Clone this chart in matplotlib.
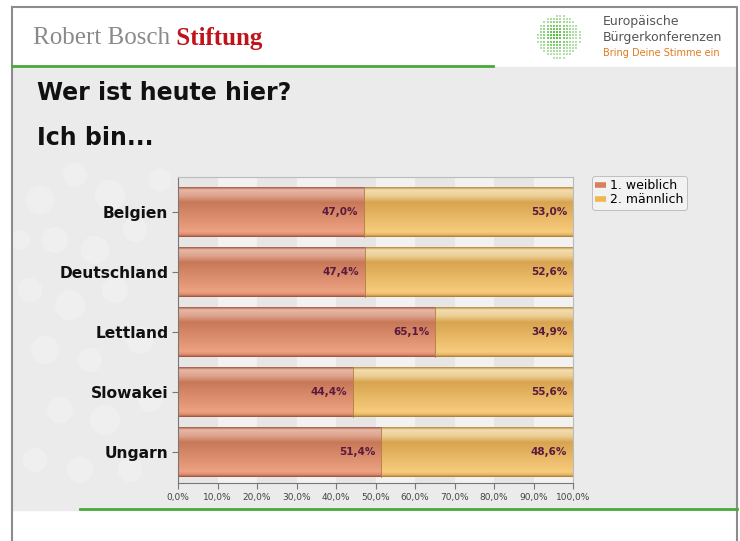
import numpy as np
import matplotlib.pyplot as plt
from matplotlib.patches import Rectangle, Circle
from matplotlib.lines import Line2D
from matplotlib.colors import to_rgb

laender = ["Belgien", "Deutschland", "Lettland", "Slowakei", "Ungarn"]
weiblich = [47.0, 47.4, 65.1, 44.4, 51.4]
maennlich = [53.0, 52.6, 34.9, 55.6, 48.6]
serien = ["1. weiblich", "2. männlich"]
ticks = np.arange(0, 101, 10)


def gradient(stops, n=100):
    pos = [s[0] for s in stops]
    cols = np.array([to_rgb(s[1]) for s in stops])
    t = np.linspace(0, 1, n)
    return np.stack([np.interp(t, pos, cols[:, i]) for i in range(3)], axis=1)[:, None, :]


grad_w = gradient([(0, "#a85a42"), (0.05, "#e6b8a6"), (0.18, "#dda28c"), (0.3, "#c87858"),
                   (0.9, "#eda282"), (0.96, "#d9886a"), (1, "#9c5038")])
grad_m = gradient([(0, "#b88a3a"), (0.05, "#f2dcb0"), (0.18, "#ecce94"), (0.3, "#d8a450"),
                   (0.9, "#f7cc7c"), (0.96, "#e6b566"), (1, "#a87c30")])

fig = plt.figure(figsize=(7.4, 5.41), dpi=100)
W, H = 740, 541


def fx(x):
    return x / W


def fy(y):
    return 1 - y / H


# slide background
bg = fig.add_axes([0, 0, 1, 1])
bg.set_xlim(0, W)
bg.set_ylim(H, 0)
bg.axis("off")
bg.add_patch(Rectangle((12, 67), 725, 443, color="#ebebeb", zorder=0))
bokeh = [(40, 200, 14), (75, 175, 12), (110, 195, 15), (55, 240, 13), (95, 250, 14),
         (135, 230, 12), (30, 290, 12), (70, 305, 15), (115, 290, 13), (45, 350, 14),
         (90, 360, 12), (140, 340, 14), (60, 410, 13), (105, 420, 15), (35, 460, 12),
         (150, 400, 12), (80, 470, 13), (130, 470, 12), (160, 180, 11), (20, 240, 10)]
for cx, cy, r in bokeh:
    bg.add_patch(Circle((cx, cy), r, color="white", alpha=0.22, lw=0, zorder=0.5))
bg.plot([12, 737, 737], [7, 7, 541], color="#8c8c8c", lw=1.5)
bg.plot([12, 12], [7, 541], color="#8c8c8c", lw=1.5)
bg.plot([12, 493], [66, 66], color="#4aa83c", lw=2)
bg.plot([80, 737], [509, 509], color="#4aa83c", lw=2)

# header
t1 = bg.text(33, 38, "Robert Bosch", family="Liberation Serif", fontsize=18, color="#8a8a8a",
             va="center")
bg.annotate(" Stiftung", xy=(1, 0.5), xycoords=t1, va="center", ha="left",
            family="Liberation Serif", fontsize=18, color="#c0141c", fontweight="bold")

# globe logo
gx, gy = np.meshgrid(np.arange(-21, 22, 3.2), np.arange(-21, 22, 3.2))
d = np.hypot(gx + 3, gy + 2)
m = np.hypot(gx, gy) < 21.5
fade = np.clip(d / 30, 0, 0.6)
green = np.array(to_rgb("#45b52f"))
cols = green[None, :] * (1 - fade[m][:, None]) + fade[m][:, None]
bg.scatter(559 + gx[m], 37 + gy[m], s=2.4, marker="s", c=cols, lw=0)
bg.text(603, 22, "Europäische", fontsize=9, color="#555555", va="center")
bg.text(603, 38, "Bürgerkonferenzen", fontsize=9, color="#555555", va="center")
bg.text(603, 53, "Bring Deine Stimme ein", fontsize=7, color="#e07a20", va="center")

# titles
bg.text(37, 93, "Wer ist heute hier?", fontsize=17, fontweight="bold", color="#111111",
        va="center")
bg.text(37, 138, "Ich bin...", fontsize=17, fontweight="bold", color="#111111", va="center")

# chart
ax = fig.add_axes([fx(178), fy(483), fx(573) - fx(178), fy(177) - fy(483)])
ax.set_facecolor("#f2f2f2")
for i in range(0, 100, 20):
    ax.axvspan(i, i + 10, color="#e6e6e6", lw=0, zorder=0)
y = np.arange(len(laender))
bars_w = ax.barh(y, weiblich, height=0.83, color="none", zorder=2)
bars_m = ax.barh(y, maennlich, left=weiblich, height=0.83, color="none", zorder=2)
for bars, grad in [(bars_w, grad_w), (bars_m, grad_m)]:
    for b in bars:
        x0, y0, w, h = b.get_x(), b.get_y(), b.get_width(), b.get_height()
        ax.imshow(grad, extent=(x0, x0 + w, y0 + h, y0), aspect="auto", zorder=2,
                  interpolation="bilinear")
        ax.plot([x0 + w, x0 + w], [y0, y0 + h], color="#b07a40", lw=0.6, zorder=3)

for i in range(len(laender)):
    ax.text(weiblich[i] - 1.5, y[i], f"{weiblich[i]:.1f}%".replace(".", ","), ha="right",
            va="center", fontsize=7.5, fontweight="bold", color="#5a1a3e", zorder=4)
    ax.text(98.5, y[i], f"{maennlich[i]:.1f}%".replace(".", ","), ha="right",
            va="center", fontsize=7.5, fontweight="bold", color="#5a1a3e", zorder=4)

ax.set_xlim(0, 100)
ax.set_ylim(4.52, -0.58)
ax.set_xticks(ticks)
ax.set_xticklabels([f"{t:.1f}%".replace(".", ",") for t in ticks], fontsize=6.5,
                   color="#444444")
ax.set_yticks(y)
ax.set_yticklabels(laender, fontsize=11.2, fontweight="bold", color="#111111")
ax.tick_params(axis="y", length=4, color="#777777", pad=3)
ax.tick_params(axis="x", length=4, color="#777777", pad=3)
for s in ["left", "bottom"]:
    ax.spines[s].set_color("#777777")
for s in ["top", "right"]:
    ax.spines[s].set_color("#bbbbbb")

# legend
handles = [Line2D([], [], color=c, lw=4, solid_capstyle="butt") for c in ["#d8805a", "#edb850"]]
leg = fig.legend(handles, serien, loc="upper left", bbox_to_anchor=(fx(592), fy(176)),
                 fontsize=9, frameon=True, handlelength=0.9, handletextpad=0.3,
                 borderpad=0.25, labelspacing=0.1, borderaxespad=0)
leg.get_frame().set_edgecolor("#aaaaaa")
leg.get_frame().set_facecolor("#f4f4f4")
leg.get_frame().set_linewidth(0.6)

fig.savefig("out.png", dpi=100)
